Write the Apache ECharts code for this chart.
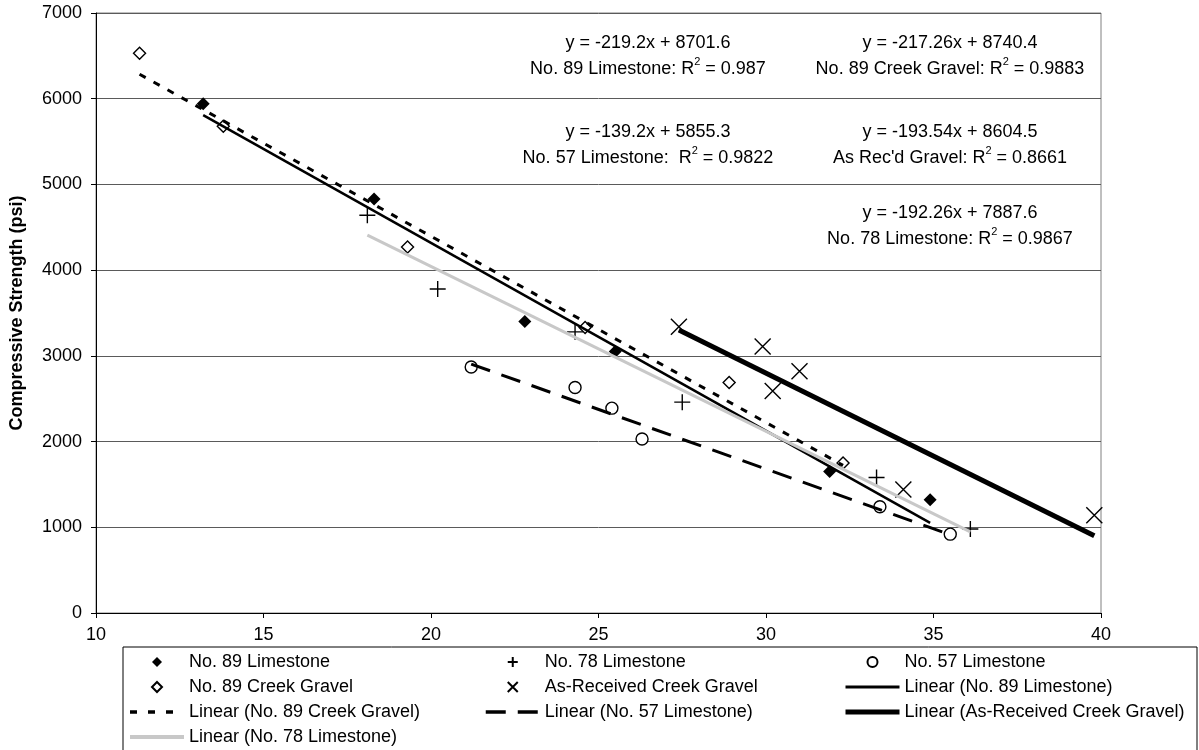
<!DOCTYPE html>
<html>
<head>
<meta charset="utf-8">
<script src="https://cdn.jsdelivr.net/npm/echarts@6/dist/echarts.min.js"></script>
<style>
  html, body { margin: 0; padding: 0; background: #fff; }
  #chart { width: 1199px; height: 750px; }
</style>
</head>
<body>
<div id="chart"></div>
<script>
// Measured points: [x, compressive strength (psi)]
const limestone89 = [[13.2, 5940], [18.3, 4830], [22.8, 3400], [25.5, 3050], [31.9, 1650], [34.9, 1320]];
const limestone78 = [[18.1, 4640], [20.2, 3780], [24.3, 3280], [27.5, 2460], [33.3, 1580], [36.1, 980]];
const limestone57 = [[21.2, 2870], [24.3, 2630], [25.4, 2390], [26.3, 2030], [33.4, 1240], [35.5, 920]];
const creekGravel89 = [[11.3, 6530], [13.8, 5680], [19.3, 4270], [24.6, 3330], [28.9, 2690], [32.3, 1750]];
const asReceivedGravel = [[27.4, 3340], [29.9, 3110], [30.2, 2590], [31.0, 2820], [34.1, 1440], [39.8, 1140]];

// Linear trend coefficients, y = slope * x + intercept
const trendSlopes = { ls89: -219.2, cg89: -217.26, ls57: -139.2, asRec: -193.54, ls78: -192.26 };
const trendIntercepts = { ls89: 8701.6, cg89: 8740.4, ls57: 5855.3, asRec: 8604.5, ls78: 7887.6 };
const trendR2 = { ls89: '0.987', cg89: '0.9883', ls57: '0.9822', asRec: '0.8661', ls78: '0.9867' };

// Axis ticks
const xTicks = [10, 15, 20, 25, 30, 35, 40];
const yTicks = [0, 1000, 2000, 3000, 4000, 5000, 6000, 7000];

const FONT = '"Liberation Sans", Arial, sans-serif';
const FS = 18;

// Trend line over the x range of its data set
function trend(key, pts) {
  const xs = pts.map(p => p[0]);
  const x0 = Math.min.apply(null, xs), x1 = Math.max.apply(null, xs);
  const a = trendSlopes[key], b = trendIntercepts[key];
  return [[x0, a * x0 + b], [x1, a * x1 + b]];
}

const DIAMOND = 'path://M0,-10L10,0L0,10L-10,0Z';
const PLUS = 'path://M0,-8L0,8M-8,0L8,0';
const CROSS = 'path://M-8,-8L8,8M-8,8L8,-8';

function scatter(name, data, symbol, size, style) {
  return { name, type: 'scatter', data, symbol, symbolSize: size, symbolKeepAspect: true,
    itemStyle: Object.assign({ opacity: 1 }, style), z: 2, emphasis: { disabled: true } };
}
function trendLine(name, data, lineStyle) {
  return { name, type: 'line', data, symbol: 'none', lineStyle,
    itemStyle: { color: 'rgba(0,0,0,0)', borderWidth: 0 }, z: 3, silent: true,
    emphasis: { disabled: true } };
}

const lsStyle = {
  ls89: { color: '#000', width: 2.5, type: 'solid' },
  cg89: { color: '#000', width: 3, type: [7, 9] },
  ls57: { color: '#000', width: 3, type: [20, 12] },
  asRec: { color: '#000', width: 5, type: 'solid' },
  ls78: { color: '#c8c8c8', width: 3, type: 'solid' }
};

const series = [
  scatter('No. 89 Limestone', limestone89, DIAMOND, 13, { color: '#000' }),
  scatter('No. 78 Limestone', limestone78, PLUS, 16, { color: 'rgba(0,0,0,0)', borderColor: '#000', borderWidth: 1.4 }),
  scatter('No. 57 Limestone', limestone57, 'circle', 12, { color: '#fff', borderColor: '#000', borderWidth: 1.4 }),
  scatter('No. 89 Creek Gravel', creekGravel89, DIAMOND, 12, { color: '#fff', borderColor: '#000', borderWidth: 1.4 }),
  scatter('As-Received Creek Gravel', asReceivedGravel, CROSS, 16, { color: 'rgba(0,0,0,0)', borderColor: '#000', borderWidth: 1.4 }),
  trendLine('Linear (No. 89 Limestone)', trend('ls89', limestone89), lsStyle.ls89),
  trendLine('Linear (No. 89 Creek Gravel)', trend('cg89', creekGravel89), lsStyle.cg89),
  trendLine('Linear (No. 57 Limestone)', trend('ls57', limestone57), lsStyle.ls57),
  trendLine('Linear (As-Received Creek Gravel)', trend('asRec', asReceivedGravel), lsStyle.asRec),
  trendLine('Linear (No. 78 Limestone)', trend('ls78', limestone78), lsStyle.ls78)
];

// Legend entries; line entries carry their own stroke
const lineItem = (name, key, extra) => ({ name, lineStyle: Object.assign({}, lsStyle[key], extra || {}), itemStyle: { opacity: 0 } });
const legendColumns = [
  { left: 128, data: ['No. 89 Limestone', 'No. 89 Creek Gravel',
      lineItem('Linear (No. 89 Creek Gravel)', 'cg89', { width: 3.5, type: [7, 11] }),
      lineItem('Linear (No. 78 Limestone)', 'ls78', { width: 4 })] },
  { left: 484, data: ['No. 78 Limestone', 'As-Received Creek Gravel',
      lineItem('Linear (No. 57 Limestone)', 'ls57', { width: 3.5, type: [20, 12] })] },
  { left: 843, data: ['No. 57 Limestone',
      lineItem('Linear (No. 89 Limestone)', 'ls89', { width: 3 }),
      lineItem('Linear (As-Received Creek Gravel)', 'asRec', { width: 5 })] }
];

const legends = legendColumns.map(col => ({
  orient: 'vertical', left: col.left, top: 653, padding: 0,
  itemWidth: 54, itemHeight: 10, itemGap: 7, symbolKeepAspect: true,
  selectedMode: false,
  data: col.data,
  textStyle: { fontFamily: FONT, fontSize: FS, color: '#000', lineHeight: 18 }
}));

// Regression equation labels
function eqText(key, label, cx, top) {
  const a = trendSlopes[key], b = trendIntercepts[key];
  return {
    type: 'text', x: cx, y: top, z: 10,
    style: {
      text: 'y = ' + a + 'x + ' + b + '\n' + label + ' R{sup|2} = ' + trendR2[key],
      fill: '#000', font: FS + 'px ' + FONT, align: 'center', verticalAlign: 'top', lineHeight: 26,
      rich: { sup: { fontSize: 11, fontFamily: FONT, lineHeight: 16, verticalAlign: 'top', fill: '#000' } }
    }
  };
}

const chart = echarts.init(document.getElementById('chart'), null, { renderer: 'canvas' });
chart.setOption({
  animation: false,
  backgroundColor: '#fff',
  grid: { left: 92, right: 98, top: 13, bottom: 137, show: true, borderColor: '#808080', borderWidth: 1 },
  xAxis: {
    type: 'value', min: xTicks[0], max: xTicks[xTicks.length - 1], interval: 5,
    axisLine: { show: true, onZero: false, lineStyle: { color: '#000', width: 1 } },
    axisTick: { show: true, inside: false, length: 5, lineStyle: { color: '#000' } },
    axisLabel: { fontFamily: FONT, fontSize: FS, color: '#000', margin: 13, formatter: v => String(v) },
    splitLine: { show: false }
  },
  yAxis: {
    type: 'value', min: yTicks[0], max: yTicks[yTicks.length - 1], interval: 1000,
    name: 'Compressive Strength (psi)', nameLocation: 'middle', nameGap: 70, nameRotate: 90,
    nameTextStyle: { fontFamily: FONT, fontSize: FS, fontWeight: 'bold', color: '#000' },
    axisLine: { show: true, lineStyle: { color: '#000', width: 1 } },
    axisTick: { show: true, inside: false, length: 5, lineStyle: { color: '#000' } },
    axisLabel: { fontFamily: FONT, fontSize: FS, color: '#000', margin: 14, formatter: v => String(v) },
    splitLine: { show: true, lineStyle: { color: '#5a5a5a', width: 1 } }
  },
  legend: legends,
  series: series,
  graphic: [
    { type: 'rect', shape: { x: 123, y: 647, width: 1074, height: 120 }, style: { fill: 'none', stroke: '#000', lineWidth: 1 }, z: -1 },
    eqText('ls89', 'No. 89 Limestone:', 648, 30),
    eqText('cg89', 'No. 89 Creek Gravel:', 950, 30),
    eqText('ls57', 'No. 57 Limestone: ', 648, 119),
    eqText('asRec', "As Rec'd Gravel:", 950, 119),
    eqText('ls78', 'No. 78 Limestone:', 950, 200)
  ]
});
</script>
</body>
</html>
